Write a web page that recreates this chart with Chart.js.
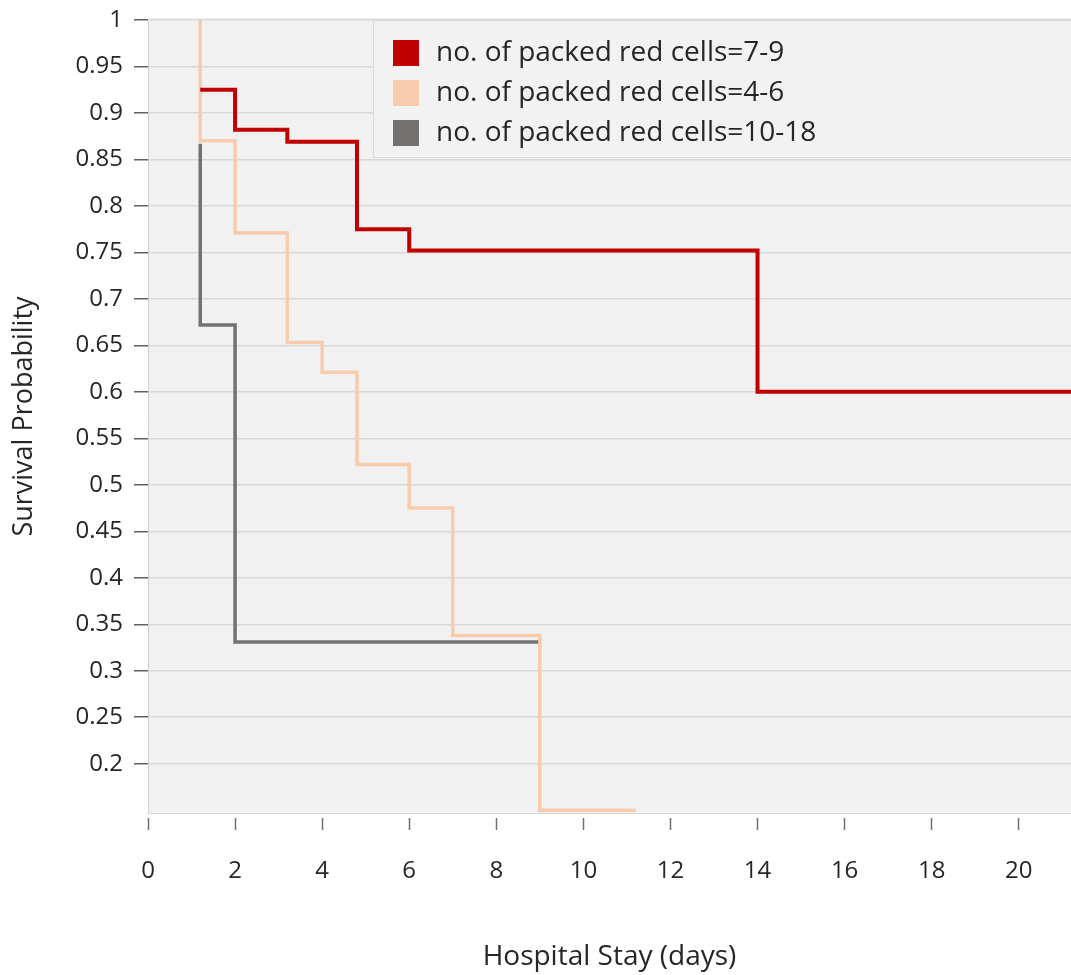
<!DOCTYPE html>
<html>
<head>
<meta charset="utf-8">
<script src="https://cdn.jsdelivr.net/npm/chart.js@4/dist/chart.umd.min.js"></script>
<style>
  body { margin: 0; background: #fff; }
  canvas { display: block; }
</style>
</head>
<body>
<canvas id="survival-chart" width="1071" height="975"></canvas>
<script>
// Series labels (legend order)
const seriesLabels = [
  'no. of packed red cells=7-9',
  'no. of packed red cells=4-6',
  'no. of packed red cells=10-18'
];

// Kaplan-Meier steps: x = hospital stay (days), y = survival probability
const redDays = [1.2, 2, 3.2, 4.8, 6, 14, 21.2];
const redSurvival = [0.925, 0.882, 0.869, 0.775, 0.752, 0.6, 0.6];

const peachDays = [1.2, 1.2, 2, 3.2, 4, 4.8, 6, 7, 9, 11.2];
const peachSurvival = [1, 0.87, 0.771, 0.653, 0.621, 0.522, 0.475, 0.338, 0.15, 0.15];

const greyDays = [1.2, 1.2, 2, 9];
const greySurvival = [0.867, 0.672, 0.331, 0.331];

// Axis ticks
const yTicks = [0.2, 0.25, 0.3, 0.35, 0.4, 0.45, 0.5, 0.55, 0.6, 0.65, 0.7, 0.75, 0.8, 0.85, 0.9, 0.95, 1];
const xTickStep = 2;

const colors = ['#c00000', '#f8cbad', '#767171'];
const lineWidths = [4, 3.5, 3.5];
const fontFamily = '"Open Sans", "Noto Sans", sans-serif';
const textColor = '#262626';

// helper to zip the arrays into {x, y} points
function toPoints(xs, ys) {
  return xs.map((x, i) => ({ x: x, y: ys[i] }));
}

// Grey background behind the plot area
const plotBackground = {
  id: 'plotBackground',
  beforeDraw(chart) {
    const { ctx, chartArea } = chart;
    ctx.save();
    ctx.fillStyle = '#f1f1f1';
    ctx.fillRect(chartArea.left, chartArea.top - 2, chartArea.right - chartArea.left, chartArea.bottom - chartArea.top + 2);
    ctx.restore();
  }
};

// Legend drawn inside the plot, in a box
const insideLegend = {
  id: 'insideLegend',
  afterDatasetsDraw(chart) {
    const ctx = chart.ctx;
    const boxLeft = 373, boxTop = 20, boxBottom = 157;
    ctx.save();
    ctx.fillStyle = '#f2f2f2';
    ctx.fillRect(boxLeft, boxTop, chart.width - boxLeft + 5, boxBottom - boxTop);
    ctx.strokeStyle = '#d9d9d9';
    ctx.lineWidth = 1;
    ctx.strokeRect(boxLeft + 0.5, boxTop + 0.5, chart.width - boxLeft + 5, boxBottom - boxTop);

    ctx.font = '28px ' + fontFamily;
    ctx.textBaseline = 'middle';
    ctx.textAlign = 'left';
    chart.data.datasets.forEach((ds, i) => {
      const cy = 53 + i * 40;
      ctx.fillStyle = ds.borderColor;
      ctx.fillRect(393, cy - 13, 26, 26);
      ctx.fillStyle = textColor;
      ctx.fillText(ds.label, 436, cy);
    });
    ctx.restore();
  }
};

const ctx = document.getElementById('survival-chart').getContext('2d');

const survivalChart = new Chart(ctx, {
  type: 'line',
  data: {
    datasets: [
      { label: seriesLabels[0], data: toPoints(redDays, redSurvival), borderColor: colors[0], borderWidth: lineWidths[0] },
      { label: seriesLabels[1], data: toPoints(peachDays, peachSurvival), borderColor: colors[1], borderWidth: lineWidths[1] },
      { label: seriesLabels[2], data: toPoints(greyDays, greySurvival), borderColor: colors[2], borderWidth: lineWidths[2] }
    ].map(ds => Object.assign(ds, {
      stepped: true,
      pointRadius: 0,
      fill: false,
      borderJoinStyle: 'miter',
      clip: false
    }))
  },
  options: {
    responsive: false,
    animation: false,
    layout: { padding: { top: 20, right: 0, bottom: 0, left: 0 } },
    plugins: {
      legend: { display: false },
      tooltip: { enabled: false }
    },
    scales: {
      x: {
        type: 'linear',
        min: 0,
        max: 21.2,
        afterFit: scale => { scale.height = 162; },
        border: { color: '#d6d6d6', width: 1 },
        grid: {
          drawOnChartArea: false,
          tickLength: 17,
          tickColor: '#6f6f6f',
          tickWidth: 1.5,
          tickBorderDash: [0, 4, 13, 60]
        },
        ticks: {
          stepSize: xTickStep,
          includeBounds: false,
          padding: 27,
          color: textColor,
          font: { family: fontFamily, size: 24 }
        },
        title: {
          display: true,
          text: 'Hospital Stay (days)',
          color: textColor,
          padding: { top: 0, bottom: 1 },
          font: { family: fontFamily, size: 28 }
        }
      },
      y: {
        min: 0.147,
        max: 1,
        afterFit: scale => {
          scale.width = 148;
          scale.paddingTop = 0;
          scale.paddingBottom = 0;
        },
        afterBuildTicks: scale => { scale.ticks = yTicks.map(v => ({ value: v })); },
        border: { color: '#d0d0d0', width: 1 },
        grid: {
          color: '#d9d9d9',
          lineWidth: 1.5,
          tickLength: 14,
          tickColor: '#5f5f5f',
          tickWidth: 1.5
        },
        ticks: {
          padding: 11,
          color: textColor,
          font: { family: fontFamily, size: 24 },
          callback: value => String(+value.toFixed(2))
        },
        title: {
          display: true,
          text: 'Survival Probability',
          color: textColor,
          padding: { top: 8, bottom: 0 },
          font: { family: fontFamily, size: 27 }
        }
      }
    }
  },
  plugins: [plotBackground, insideLegend]
});
</script>
</body>
</html>
